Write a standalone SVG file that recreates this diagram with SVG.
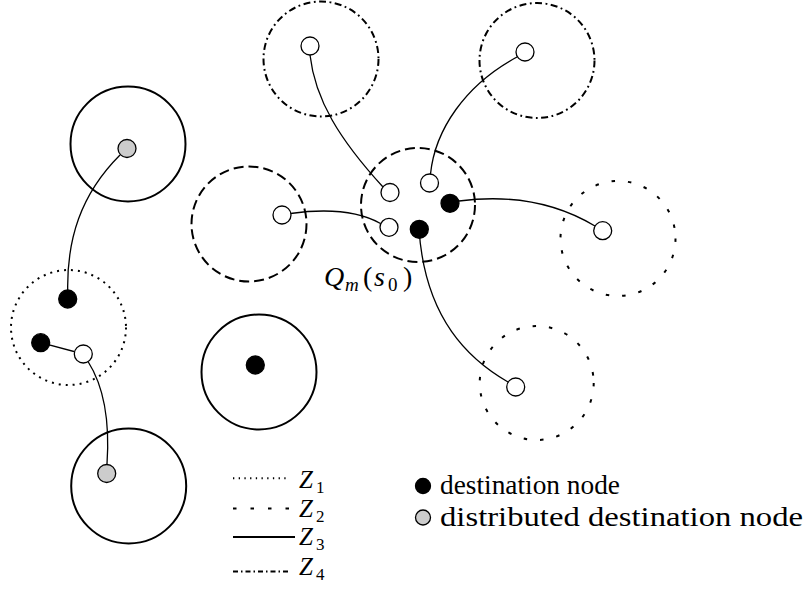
<svg xmlns="http://www.w3.org/2000/svg" width="807" height="592" viewBox="0 0 807 592">
  <style>
    .zone { fill: none; stroke: #000; stroke-width: 2; }
    .z1 { stroke-dasharray: 2 5; }
    .z2 { stroke-dasharray: 3.5 13; }
    .z4 { stroke-dasharray: 7 3.5 1.8 3.5; }
    .dash { stroke-dasharray: 10 5; }
    .node { stroke: #000; stroke-width: 1.3; }
    .white { fill: #fff; }
    .black { fill: #000; }
    .gray { fill: #cccccc; }
    .link { fill: none; stroke: #000; stroke-width: 1.3; }
    .lbl { font-family: "Liberation Serif", "DejaVu Serif", serif; fill: #000; }
    .it { font-style: italic; }
  </style>
  <rect width="807" height="592" fill="#fff"/>

  <!-- zone circles -->
  <g id="zones">
    <circle id="zone-left-top" class="zone" cx="128" cy="144" r="57.5"/>
    <circle id="zone-left-mid" class="zone z1" cx="68.5" cy="327.5" r="57.5"/>
    <circle id="zone-left-bottom" class="zone" cx="128.7" cy="486" r="57.5"/>
    <circle id="zone-middle" class="zone" cx="259" cy="372" r="57.5"/>
    <circle id="zone-top-left" class="zone z4" cx="321" cy="59" r="57.5"/>
    <circle id="zone-top-right" class="zone z4" cx="537" cy="60.5" r="57.5"/>
    <circle id="zone-west" class="zone dash" cx="249" cy="224" r="57.5"/>
    <circle id="zone-q" class="zone dash" cx="418" cy="205" r="57"/>
    <circle id="zone-east" class="zone z2" cx="618" cy="238.5" r="57.5"/>
    <circle id="zone-south" class="zone z2" cx="536.7" cy="383" r="57"/>
  </g>

  <!-- connectors -->
  <g id="connectors">
    <path class="link" d="M310,55 C315,100 340,140 383,187"/>
    <path class="link" d="M517,57 C465,85 435,130 430.5,174"/>
    <path class="link" d="M290.5,213.5 C330,208 360,212 380.5,223.5"/>
    <path class="link" d="M459,201 C520,193 565,208 595,226"/>
    <path class="link" d="M419,229 C425,320 470,360 508,382"/>
    <path class="link" d="M120,155 C80,195 67,240 67.7,290"/>
    <path class="link" d="M40.7,342.7 L83.3,354"/>
    <path class="link" d="M88,361.5 C103,385 110,420 107,464"/>
  </g>

  <!-- nodes -->
  <g id="n-left-top"><circle class="node gray" cx="127" cy="148.5" r="9"/></g>
  <g id="n-left-mid-a"><circle class="node black" cx="67.7" cy="299" r="9"/></g>
  <g id="n-left-mid-b"><circle class="node black" cx="40.7" cy="342.7" r="9"/></g>
  <g id="n-left-mid-c"><circle class="node white" cx="83.3" cy="354" r="9"/></g>
  <g id="n-left-bottom"><circle class="node gray" cx="106.7" cy="473.5" r="9"/></g>
  <g id="n-middle"><circle class="node black" cx="255.3" cy="365" r="9"/></g>
  <g id="n-top-left"><circle class="node white" cx="310" cy="46" r="9"/></g>
  <g id="n-top-right"><circle class="node white" cx="525" cy="52" r="9"/></g>
  <g id="n-west"><circle class="node white" cx="282" cy="215" r="9"/></g>
  <g id="n-q-a"><circle class="node white" cx="390" cy="192.5" r="9"/></g>
  <g id="n-q-b"><circle class="node white" cx="429.5" cy="183" r="9"/></g>
  <g id="n-q-c"><circle class="node black" cx="450" cy="203.3" r="9"/></g>
  <g id="n-q-d"><circle class="node white" cx="389" cy="227.3" r="9"/></g>
  <g id="n-q-e"><circle class="node black" cx="419.3" cy="229.3" r="9"/></g>
  <g id="n-east"><circle class="node white" cx="602.7" cy="230.7" r="9"/></g>
  <g id="n-south"><circle class="node white" cx="515.7" cy="387" r="9"/></g>

  <!-- zone label -->
  <g id="label-q" class="lbl">
    <text x="324" y="286" font-size="28" class="it">Q</text>
    <text x="345" y="291" font-size="19" class="it">m</text>
    <text x="363" y="286" font-size="28">(</text>
    <text x="374" y="286" font-size="28" class="it">s</text>
    <text x="388" y="291" font-size="19">0</text>
    <text x="403" y="286" font-size="28">)</text>
  </g>

  <!-- legend: zone line styles -->
  <g id="legend-zones">
    <line class="zone" x1="233" y1="478.3" x2="290" y2="478.3" stroke-width="1.3" stroke-dasharray="1.3 4.4"/>
    <line class="zone" x1="233" y1="508.5" x2="290" y2="508.5" stroke-width="1.5" stroke-dasharray="3.5 14"/>
    <line class="zone" x1="233" y1="537" x2="295" y2="537" stroke-width="2"/>
    <line class="zone" x1="233" y1="571.5" x2="290" y2="571.5" stroke-width="1.5" stroke-dasharray="5 3 1.5 3"/>
    <g class="lbl" font-size="25">
      <text x="299" y="488" class="it">Z</text><text x="316" y="492.5" font-size="17">1</text>
      <text x="299" y="517" class="it">Z</text><text x="316" y="521.5" font-size="17">2</text>
      <text x="299" y="545" class="it">Z</text><text x="316" y="549.5" font-size="17">3</text>
      <text x="299" y="575" class="it">Z</text><text x="316" y="579.5" font-size="17">4</text>
    </g>
  </g>

  <!-- legend: node kinds -->
  <g id="legend-nodes">
    <circle class="node black" cx="423" cy="486" r="7.5"/>
    <text class="lbl" x="440" y="494" font-size="27" textLength="180" lengthAdjust="spacingAndGlyphs">destination node</text>
    <circle class="node gray" cx="423" cy="517.5" r="7.5"/>
    <text class="lbl" x="440" y="525.5" font-size="27" textLength="363" lengthAdjust="spacingAndGlyphs">distributed destination node</text>
  </g>
</svg>
